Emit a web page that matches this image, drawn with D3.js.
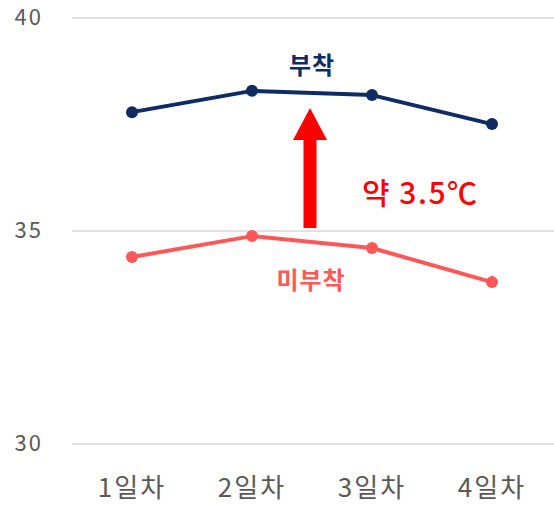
<!DOCTYPE html>
<html><head><meta charset="utf-8">
<script src="https://cdn.jsdelivr.net/npm/d3@7"></script>
<style>body{margin:0;background:#fff}svg{display:block}</style>
</head><body>
<script>
const categories = ["1일차","2일차","3일차","4일차"];
const attached = [37.79, 38.29, 38.19, 37.51];
const unattached = [34.39, 34.88, 34.60, 33.80];
const yTicks = [30, 35, 40];
const seriesNames = ["부착", "미부착"];
const diffLabel = "약 3.5℃";

const W = 554, H = 505;
const svg = d3.select("body").append("svg").attr("width", W).attr("height", H);
const font = "'Noto Sans CJK KR','Noto Sans',sans-serif";

const x = d3.scalePoint().domain(categories).range([132, 492]);
const y = d3.scaleLinear().domain([30, 40]).range([444, 18]);

// gridlines
svg.append("g").selectAll("line").data(yTicks).join("line")
  .attr("x1", 72).attr("x2", W).attr("y1", d => y(d)).attr("y2", d => y(d))
  .attr("stroke", "#d9d9d9").attr("stroke-width", 1.5);

// y labels
svg.append("g").selectAll("text").data(yTicks).join("text")
  .attr("x", 43).attr("y", d => y(d) - 1).attr("dy", "0.35em")
  .attr("text-anchor", "end").attr("font-family", font).attr("font-size", 22)
  .attr("letter-spacing", 2)
  .attr("fill", "#595959").text(d => d);

// x labels
svg.append("g").selectAll("text").data(categories).join("text")
  .attr("x", d => x(d)).attr("y", 488).attr("dy", "0.35em")
  .attr("text-anchor", "middle").attr("font-family", font).attr("font-size", 26)
  .attr("letter-spacing", 2)
  .attr("fill", "#595959").text(d => d);

const line = d3.line().x((d, i) => x(categories[i])).y(d => y(d));

function drawSeries(vals, color) {
  svg.append("path").datum(vals).attr("d", line).attr("fill", "none")
    .attr("stroke", color).attr("stroke-width", 4).attr("stroke-linejoin", "round");
  svg.append("g").selectAll("circle").data(vals).join("circle")
    .attr("cx", (d, i) => x(categories[i])).attr("cy", d => y(d)).attr("r", 6)
    .attr("fill", color);
}
drawSeries(attached, "#0f2b63");
drawSeries(unattached, "#ff5757");

// series labels
svg.append("text").attr("x", 312).attr("y", 66).attr("dy", "0.35em")
  .attr("text-anchor", "middle").attr("font-family", font).attr("font-size", 24)
  .attr("font-weight", "bold").attr("letter-spacing", 1).attr("fill", "#0f2b63").text(seriesNames[0]);
svg.append("text").attr("x", 311).attr("y", 281).attr("dy", "0.35em")
  .attr("text-anchor", "middle").attr("font-family", font).attr("font-size", 24)
  .attr("font-weight", "bold").attr("letter-spacing", 1).attr("fill", "#ff5757").text(seriesNames[1]);

// arrow
const ax = 310;
const aTop = 108, aHeadBase = 140, aBottom = 228;
svg.append("rect").attr("x", ax - 6.5).attr("y", aHeadBase - 1).attr("width", 13)
  .attr("height", aBottom - aHeadBase + 1).attr("fill", "#ff0000");
svg.append("path").attr("d", `M${ax},${aTop} L${ax+17},${aHeadBase} L${ax-17},${aHeadBase} Z`)
  .attr("fill", "#ff0000");

svg.append("text").attr("x", 362).attr("y", 193).attr("dy", "0.35em")
  .attr("font-family", font).attr("font-size", 30).attr("font-weight", 500)
  .attr("letter-spacing", 1.5)
  .attr("fill", "#ff0000").text(diffLabel);
</script>
</body></html>
